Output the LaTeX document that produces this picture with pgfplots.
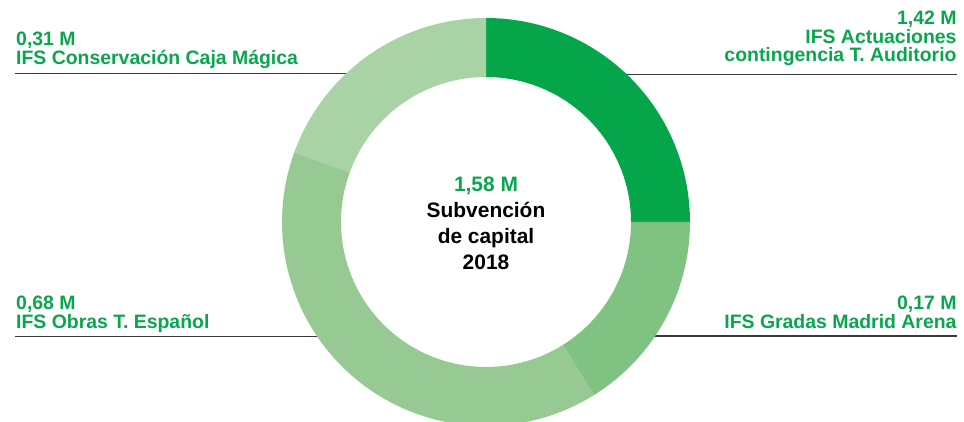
\documentclass[border=0pt]{standalone}
\usepackage{fontspec}
\setmainfont{Liberation Sans}
\usepackage{pgfplots}
\pgfplotsset{compat=1.18}

\definecolor{gdark}{HTML}{05A64A}
\definecolor{gmid}{HTML}{80C281}
\definecolor{glight}{HTML}{96CA92}
\definecolor{gpale}{HTML}{A9D3A4}
\definecolor{gtext}{HTML}{0AA64E}
\definecolor{rule}{HTML}{3A3A3A}

\tikzset{
  lab/.style={inner sep=0pt, text=gtext, font=\bfseries\fontsize{19.5}{18}\selectfont},
  mid/.style={inner sep=0pt, anchor=base, font=\bfseries\fontsize{21}{26}\selectfont},
}

% ring segment: start angle, end angle, colour (centre 486,200; radii 204/145)
\newcommand{\ringseg}[3]{%
  \addplot[fill=#3, draw=none, domain=0:3, samples=241, variable=\t]
  ({486 + ifthenelse(\t<1, 204*cos(#1+(#2-#1)*\t),
        ifthenelse(\t<2, (204-59*(\t-1))*cos(#2), 145*cos(#2-(#2-#1)*(\t-2))))},
   {200 + ifthenelse(\t<1, 204*sin(#1+(#2-#1)*\t),
        ifthenelse(\t<2, (204-59*(\t-1))*sin(#2), 145*sin(#2-(#2-#1)*(\t-2))))}) -- cycle;
}

\begin{document}
\begin{tikzpicture}
\begin{axis}[width=964bp, height=422bp, scale only axis,
  xmin=0, xmax=964, ymin=0, ymax=422, hide axis]

% keep the full frame as the picture's extent
\path (rel axis cs:0,0) rectangle (rel axis cs:1,1);

% leader lines
\addplot[rule, line width=1.2pt] coordinates {(15,348.7) (380,348.7)};
\addplot[rule, line width=1.2pt] coordinates {(600,347.7) (957,347.7)};
\addplot[rule, line width=1.2pt] coordinates {(15,85.3) (350,85.3)};
\addplot[rule, line width=1.2pt] coordinates {(610,86) (957,86)};

% segments (angles read off the ring, clockwise from the top)
\ringseg{90}{0}{gdark}      % 1,42 M
\ringseg{0}{-58}{gmid}      % 0,17 M
\ringseg{-58}{-200}{glight} % 0,68 M
\ringseg{-200}{-270}{gpale} % 0,31 M

% labels
\node[lab, anchor=base west] at (axis cs:16,376) {0,31 M};
\node[lab, anchor=base west] at (axis cs:16,357.7) {IFS Conservación Caja Mágica};
\node[lab, anchor=base east] at (axis cs:956.7,397) {1,42 M};
\node[lab, anchor=base east] at (axis cs:956.7,378.5) {IFS Actuaciones};
\node[lab, anchor=base east] at (axis cs:956.7,360.2) {contingencia T. Auditorio};
\node[lab, anchor=base west] at (axis cs:16,112) {0,68 M};
\node[lab, anchor=base west] at (axis cs:16,93.7) {IFS Obras T. Español};
\node[lab, anchor=base east] at (axis cs:956.7,112) {0,17 M};
\node[lab, anchor=base east] at (axis cs:956.7,93.7) {IFS Gradas Madrid Arena};

% centre
\node[mid, text=gtext] at (axis cs:486,230.3) {1,58 M};
\node[mid] at (axis cs:486,204.7) {Subvención};
\node[mid] at (axis cs:486,178.7) {de capital};
\node[mid] at (axis cs:486,152) {2018};
\end{axis}
\end{tikzpicture}
\end{document}
